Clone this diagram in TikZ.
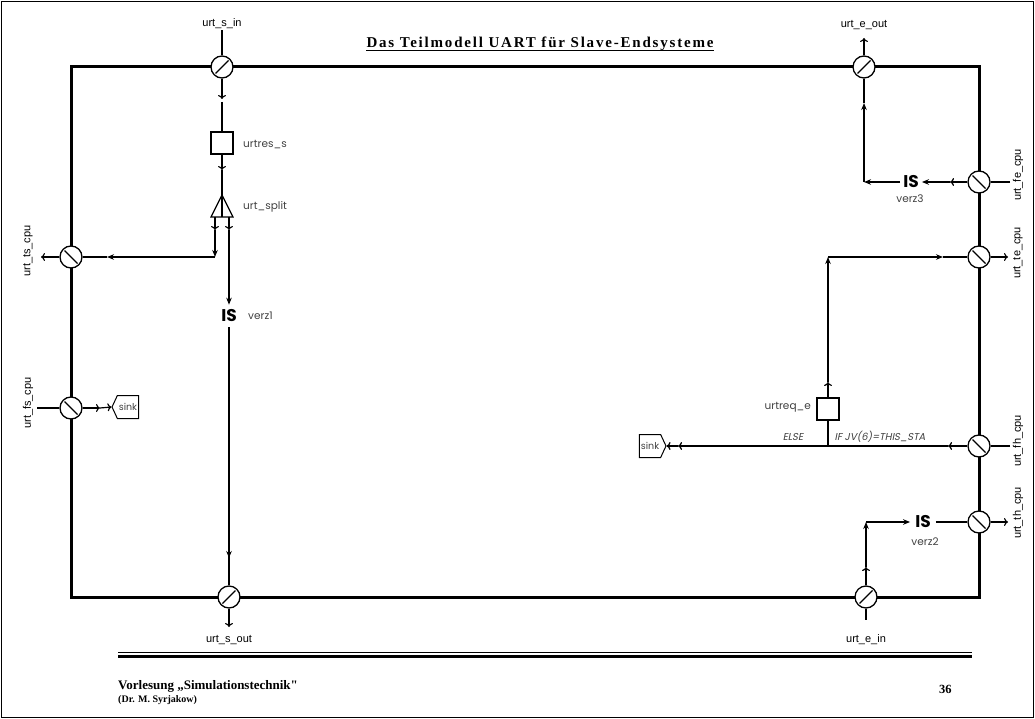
\documentclass[tikz,border=0pt]{standalone}
\usepackage{fontspec}
\setmainfont{Liberation Serif}
\newfontfamily\footfont[Ligatures=TeXOff]{Liberation Serif}
\newfontfamily\labfont{Liberation Sans}
\newfontfamily\geofont{Poppins}
\newfontfamily\geoit[FakeSlant=0.2]{Poppins}
\usetikzlibrary{arrows.meta,shapes.symbols}
\begin{document}
\begin{tikzpicture}[x=1pt,y=-1pt,
  conn/.style={line width=1.2pt},
  oarr/.style={conn,-{To[length=4pt,width=8pt]}},
  farr/.style={conn,-{Stealth[length=7pt,width=5.5pt]}},
  port/.style={circle,draw,line width=1.3pt,fill=white,minimum size=22pt,inner sep=0pt},
  portA/.style={port,path picture={\draw[line width=1.3pt] ([shift={(-6.5pt,-6.5pt)}]path picture bounding box.center) -- ([shift={(6.5pt,6.5pt)}]path picture bounding box.center);}},
  portB/.style={port,path picture={\draw[line width=1.3pt] ([shift={(-6.5pt,6.5pt)}]path picture bounding box.center) -- ([shift={(6.5pt,-6.5pt)}]path picture bounding box.center);}},
  plab/.style={font=\labfont\fontsize{11}{12}\selectfont,inner sep=1pt},
  rlab/.style={plab,rotate=90},
  glab/.style={font=\geofont\fontsize{10.5}{12}\selectfont,text=black!75,inner sep=0pt},
  gital/.style={font=\geoit\fontsize{10}{12}\selectfont,text=black!75,inner sep=0pt},
  isnode/.style={font=\geofont\bfseries\fontsize{17}{18}\selectfont,inner sep=5pt},
  qbox/.style={draw,line width=1.2pt,minimum size=22pt,inner sep=0pt},
  sinkbox/.style={signal,draw,line width=1pt,font=\geofont\fontsize{9.5}{10}\selectfont,text=black!75,inner sep=1.5pt,minimum height=23pt,signal pointer angle=130}
]
\useasboundingbox (0,0) rectangle (1035,719);
\draw[line width=1.5pt] (1.5,1.5) rectangle (1033.5,717.5);
\draw[line width=3pt] (71,67) rectangle (979,597);

% title
\node[font=\bfseries\fontsize{15}{17}\selectfont\addfontfeature{LetterSpace=12},inner sep=0pt] (title) at (540,44) {Das Teilmodell UART für Slave-Endsysteme};
\draw[line width=1.2pt] ([yshift=-2.5pt]title.base west) -- ([yshift=-2.5pt]title.base east);

% ports
\node[portA] (sin) at (222,67) {};
\node[portA] (sout) at (229,597) {};
\node[portA] (eout) at (864,67) {};
\node[portA] (ein) at (866,597) {};
\node[portB] (ts) at (71,257) {};
\node[portB] (fs) at (71,408) {};
\node[portB] (fe) at (979,182) {};
\node[portB] (te) at (979,257) {};
\node[portB] (fh) at (979,446) {};
\node[portB] (th) at (979,522) {};

% port labels
\node[plab] (lsin) at (222,24) {urt\_s\_in};
\node[plab] (lsout) at (229,640) {urt\_s\_out};
\node[plab] (leout) at (864,25) {urt\_e\_out};
\node[plab] (lein) at (866,640) {urt\_e\_in};
\node[rlab] (lts) at (28,251) {urt\_ts\_cpu};
\node[rlab] (lfs) at (28,403) {urt\_fs\_cpu};
\node[rlab] (lfe) at (1018,175) {urt\_fe\_cpu};
\node[rlab] (lte) at (1018,253) {urt\_te\_cpu};
\node[rlab] (lfh) at (1018,441) {urt\_fh\_cpu};
\node[rlab] (lth) at (1018,513) {urt\_th\_cpu};

% left part
\node[qbox] (res) at (222,143) {};
\node[glab,anchor=west] (lres) at (243,145) {urtres\_s};
\coordinate (sp) at (222,195);
\coordinate (spbase) at (222,217);
\draw[conn,fill=white] (sp) -- (211,217) -- (233,217) -- cycle;
\draw[conn] (sp) -- (spbase);
\node[glab,anchor=west] (lsplit) at (243,207) {urt\_split};
\node[isnode] (is1) at (229,316) {IS};
\node[glab,anchor=west] (lv1) at (248,316) {verz1};

\coordinate (a1) at (222,99);
\coordinate (a1b) at (222,102);
\coordinate (a2) at (222,170);
\draw[conn] (lsin.south) -- (sin.north);
\draw[oarr] (sin.south) -- (a1);
\draw[conn] (a1b) -- (res.north);
\draw[oarr] (res.south) -- (a2);
\draw[conn] (a2) -- (sp);

\coordinate (spL) at (215,217);
\coordinate (spLa) at (215,230);
\coordinate (cornL) at (215,257);
\coordinate (tsA) at (107,257);
\coordinate (tsOut) at (41,257);
\draw[oarr] (spL) -- (spLa);
\draw[farr] (spLa) -- (cornL);
\draw[farr] (cornL) -- (tsA);
\draw[conn] (tsA) -- (ts.east);
\draw[oarr] (ts.west) -- (tsOut);

\coordinate (spR) at (229,217);
\coordinate (spRa) at (229,230);
\coordinate (s1) at (229,558);
\coordinate (soutEnd) at (229,627);
\draw[oarr] (spR) -- (spRa);
\draw[farr] (spRa) -- (is1.north);
\draw[conn] (is1.south) -- (s1);
\draw[farr] ([yshift=20pt]s1) -- (s1);
\draw[conn] (s1) -- (sout.north);
\draw[oarr] (sout.south) -- (soutEnd);

\node[sinkbox,signal to=west] (sink1) at (128,407) {sink};
\coordinate (fsIn) at (37,408);
\coordinate (fsA) at (100,408);
\draw[conn] (fsIn) -- (fs.west);
\draw[oarr] (fs.east) -- (fsA);
\draw[oarr] (fsA) -- (sink1.west);

% right part
\node[isnode,inner sep=3pt] (is3) at (911,182) {IS};
\node[glab] (lv3) at (910,199) {verz3};
\coordinate (eoutEnd) at (864,38);
\coordinate (feA) at (950,182);
\coordinate (cornE) at (864,182);
\coordinate (eA) at (864,103);
\coordinate (feIn) at (1010,182);
\draw[oarr] (eout.north) -- (eoutEnd);
\draw[oarr] (fe.west) -- (feA);
\draw[farr] (feA) -- (is3.east);
\draw[farr] (is3.west) -- (cornE);
\draw[farr] (cornE) -- (eA);
\draw[conn] (eA) -- (eout.south);
\draw[conn] (feIn) -- (fe.east);

\node[qbox] (req) at (828,409) {};
\node[glab,anchor=east] (lreq) at (811,407) {urtreq\_e};
\coordinate (rA) at (828,382);
\coordinate (cornT) at (828,257);
\coordinate (tA) at (943,257);
\coordinate (teOut) at (1008,257);
\draw[oarr] (req.north) -- (rA);
\draw[farr] (rA) -- (cornT);
\draw[farr] (cornT) -- (tA);
\draw[conn] (tA) -- (te.west);
\draw[oarr] (te.east) -- (teOut);

\node[sinkbox,signal to=east] (sink2) at (650,446) {sink};
\coordinate (fhIn) at (1010,446);
\coordinate (fhA) at (948,446);
\coordinate (fhB) at (678,446);
\coordinate (reqJ) at (828,446);
\draw[conn] (fhIn) -- (fh.east);
\draw[oarr] (fh.west) -- (fhA);
\draw[oarr] (fhA) -- (fhB);
\draw[oarr] (fhB) -- (sink2.east);
\draw[conn] (req.south) -- (reqJ);
\node[gital] (lelse) at (793,437) {ELSE};
\node[gital] (lif) at (880,437) {IF JV(6)=THIS\_STA};

\node[isnode] (is2) at (923,522) {IS};
\node[glab] (lv2) at (925,542) {verz2};
\coordinate (thOut) at (1008,522);
\coordinate (eiA) at (866,567);
\coordinate (cornI) at (866,522);
\coordinate (einEnd) at (866,620);
\draw[conn] (is2.east) -- (th.west);
\draw[oarr] (th.east) -- (thOut);
\draw[oarr] (ein.north) -- (eiA);
\draw[farr] (eiA) -- (cornI);
\draw[farr] (cornI) -- (is2.west);
\draw[conn] (ein.south) -- (einEnd);

% footer
\coordinate (fl1) at (118,652);
\coordinate (fr1) at (972,652);
\coordinate (fl2) at (118,656.5);
\coordinate (fr2) at (972,656.5);
\draw[line width=0.8pt] (fl1) -- (fr1);
\draw[line width=3pt] (fl2) -- (fr2);
\node[anchor=base west,font=\footfont\bfseries\fontsize{13}{14}\selectfont,inner sep=0pt] (lect) at (118,689) {Vorlesung „Simulationstechnik"};
\node[anchor=base west,font=\footfont\bfseries\fontsize{10}{11}\selectfont,inner sep=0pt] (auth) at (118,702) {(Dr. M. Syrjakow)};
\node[anchor=base west,font=\footfont\bfseries\fontsize{12.5}{14}\selectfont,inner sep=0pt] (page) at (939,693) {36};
\end{tikzpicture}
\end{document}
